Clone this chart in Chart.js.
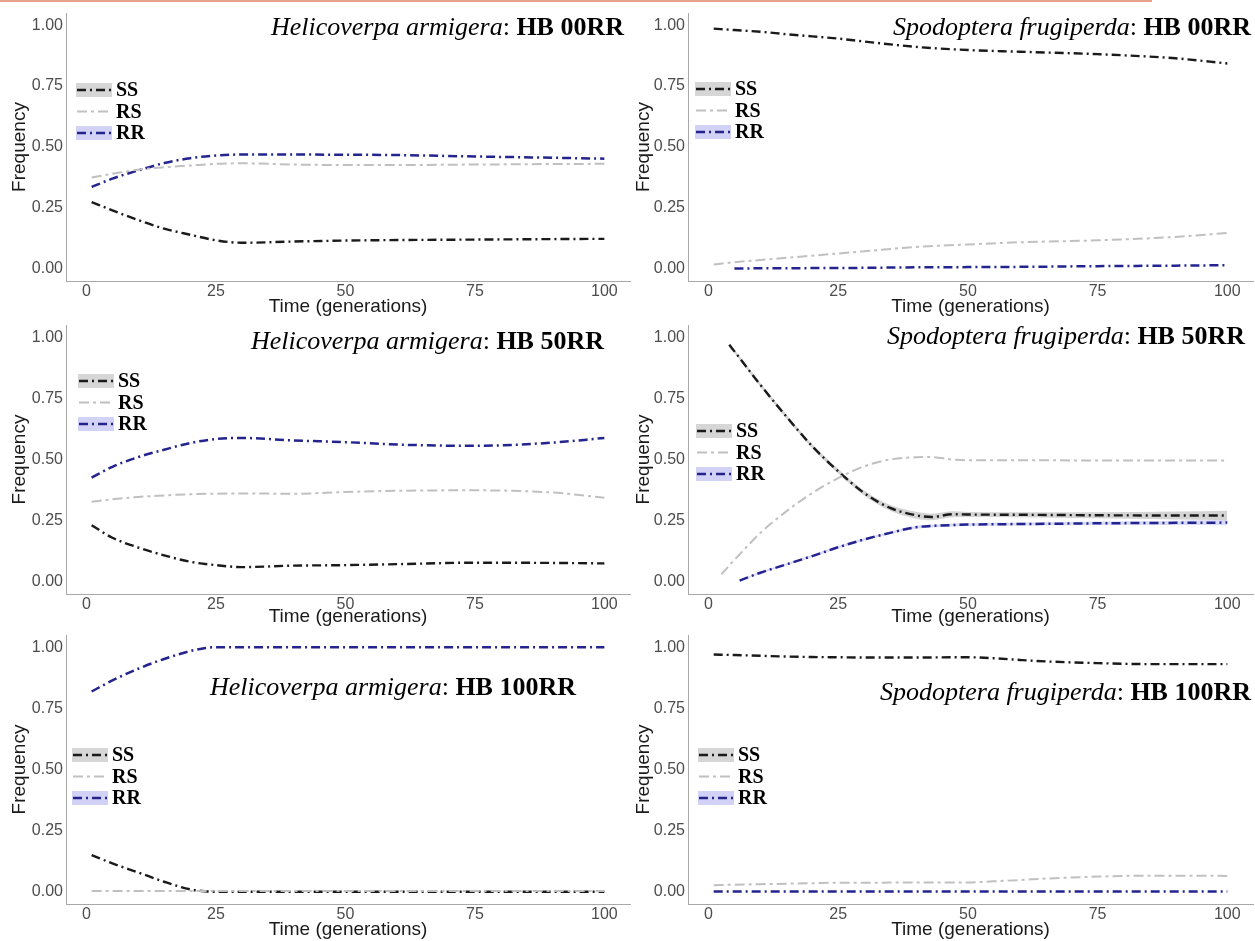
<!DOCTYPE html>
<html>
<head>
<meta charset="utf-8">
<script src="https://cdn.jsdelivr.net/npm/chart.js@4.4.1/dist/chart.umd.min.js"></script>
<style>
  body { margin: 0; background: #fff; width: 1255px; height: 941px; position: relative; overflow: hidden; }
  .bar { position: absolute; left: 0; top: 0; width: 1152px; height: 2px; background: #e8a28c; }
  canvas { position: absolute; }
</style>
</head>
<body>
<div class="bar"></div>
<canvas id="p1" width="632" height="318" style="left:0;top:0"></canvas>
<canvas id="p2" width="631" height="318" style="left:624px;top:0"></canvas>
<canvas id="p3" width="632" height="316" style="left:0;top:312px"></canvas>
<canvas id="p4" width="631" height="316" style="left:624px;top:312px"></canvas>
<canvas id="p5" width="632" height="319" style="left:0;top:622px"></canvas>
<canvas id="p6" width="631" height="319" style="left:624px;top:622px"></canvas>
<script>
// Axis ticks
const xTicks = [0, 25, 50, 75, 100];
const yTicks = [0, 0.25, 0.5, 0.75, 1];
const genotypes = ['SS', 'RS', 'RR'];

// Helicoverpa armigera: HB 00RR
const ha00Gen = [1, 5, 10, 15, 20, 25, 30, 40, 50, 60, 75, 90, 100];
const ha00SS = [0.274, 0.24, 0.20, 0.165, 0.14, 0.117, 0.107, 0.112, 0.116, 0.118, 0.12, 0.122, 0.123];
const ha00RS = [0.375, 0.39, 0.407, 0.417, 0.424, 0.431, 0.433, 0.428, 0.426, 0.426, 0.428, 0.43, 0.431];
const ha00RR = [0.336, 0.37, 0.404, 0.434, 0.454, 0.465, 0.469, 0.469, 0.468, 0.467, 0.461, 0.456, 0.452];

// Spodoptera frugiperda: HB 00RR
const sf00Gen = [1, 5, 10, 15, 20, 25, 30, 40, 50, 60, 75, 90, 100];
const sf00SS = [0.986, 0.98, 0.973, 0.963, 0.954, 0.945, 0.933, 0.911, 0.898, 0.891, 0.881, 0.864, 0.843];
const sf00RS = [0.018, 0.027, 0.036, 0.045, 0.054, 0.063, 0.072, 0.09, 0.1, 0.109, 0.117, 0.131, 0.147];
const sf00RR = [null, 0.001, 0.002, 0.002, 0.003, 0.003, 0.004, 0.006, 0.007, 0.008, 0.011, 0.013, 0.015];

// Helicoverpa armigera: HB 50RR
const ha50Gen = [1, 5, 10, 15, 20, 25, 30, 40, 50, 60, 75, 90, 100];
const ha50SS = [0.231, 0.18, 0.14, 0.108, 0.082, 0.068, 0.06, 0.066, 0.068, 0.072, 0.078, 0.077, 0.075];
const ha50RS = [0.327, 0.337, 0.347, 0.353, 0.358, 0.36, 0.361, 0.36, 0.367, 0.372, 0.374, 0.365, 0.344];
const ha50RR = [0.426, 0.47, 0.51, 0.54, 0.567, 0.584, 0.588, 0.578, 0.571, 0.561, 0.556, 0.569, 0.588];

// Spodoptera frugiperda: HB 50RR (with confidence bands)
const sf50Gen = [2.5, 4, 6, 10, 15, 20, 25, 30, 35, 40, 43, 47, 50, 60, 75, 90, 100];
const sf50SS = [null, 0.969, 0.915, 0.805, 0.676, 0.554, 0.452, 0.363, 0.302, 0.272, 0.265, 0.276, 0.275, 0.274, 0.272, 0.271, 0.271];
const sf50RS = [0.03, 0.067, 0.112, 0.2, 0.288, 0.363, 0.424, 0.472, 0.5, 0.509, 0.51, 0.5, 0.497, 0.497, 0.496, 0.496, 0.496];
const sf50RR = [null, null, 0.005, 0.037, 0.071, 0.105, 0.141, 0.173, 0.2, 0.223, 0.228, 0.232, 0.234, 0.236, 0.239, 0.241, 0.242];
const sf50SSLow = [null, 0.962, 0.908, 0.797, 0.668, 0.546, 0.443, 0.353, 0.29, 0.258, 0.252, 0.264, 0.265, 0.264, 0.26, 0.255, 0.252];
const sf50SSHigh = [null, 0.976, 0.922, 0.813, 0.684, 0.562, 0.461, 0.373, 0.314, 0.286, 0.278, 0.288, 0.285, 0.284, 0.284, 0.287, 0.29];
const sf50RRLow = [null, null, 0.002, 0.033, 0.067, 0.1, 0.136, 0.168, 0.195, 0.217, 0.222, 0.226, 0.228, 0.23, 0.232, 0.232, 0.231];
const sf50RRHigh = [null, null, 0.008, 0.041, 0.075, 0.11, 0.146, 0.178, 0.205, 0.229, 0.234, 0.238, 0.24, 0.242, 0.246, 0.25, 0.253];

// Helicoverpa armigera: HB 100RR
const ha100Gen = [1, 5, 10, 15, 20, 23, 25, 30, 40, 50, 60, 75, 90, 100];
const ha100SS = [0.15, 0.116, 0.079, 0.041, 0.01, 0.002, 0, 0, 0, 0, 0, 0, 0, 0];
const ha100RS = [0.003, 0.003, 0.003, 0.003, 0.003, 0.003, 0.003, 0.003, 0.003, 0.003, 0.003, 0.003, 0.003, 0.003];
const ha100RR = [0.819, 0.864, 0.912, 0.952, 0.984, 0.997, 1.0, 1.0, 1.0, 1.0, 1.0, 1.0, 1.0, 1.0];

// Spodoptera frugiperda: HB 100RR
const sf100Gen = [1, 5, 10, 15, 20, 25, 30, 40, 50, 55, 60, 65, 75, 85, 100];
const sf100SS = [0.97, 0.968, 0.965, 0.962, 0.96, 0.959, 0.958, 0.958, 0.959, 0.955, 0.948, 0.942, 0.935, 0.931, 0.931];
const sf100RS = [0.027, 0.029, 0.031, 0.033, 0.035, 0.037, 0.037, 0.038, 0.038, 0.043, 0.048, 0.054, 0.062, 0.066, 0.065];
const sf100RR = [0.001, 0.001, 0.001, 0.001, 0.001, 0.001, 0.001, 0.001, 0.001, 0.001, 0.001, 0.001, 0.001, 0.001, 0.001];

// line look for each genotype
const styles = {
    SS: { color: '#1a1a1a', width: 2.4, dash: [9, 4, 2, 4], box: '#d6d6d6' },
    RS: { color: '#c0c0c0', width: 2, dash: [10, 4, 3, 4], box: null },
    RR: { color: '#24248f', width: 2.5, dash: [9, 4, 2, 4], box: '#d2d2f6' }
};

const panels = [
    { id: 'p1', yw: 66, xh: 37, species: 'Helicoverpa armigera', code: 'HB 00RR', gen: ha00Gen, SS: ha00SS, RS: ha00RS, RR: ha00RR, titleX: 624, titleY: 28, legX: 76, legY: 90 },
    { id: 'p2', yw: 64, xh: 37, species: 'Spodoptera frugiperda', code: 'HB 00RR', gen: sf00Gen, SS: sf00SS, RS: sf00RS, RR: sf00RR, titleX: 627, titleY: 28, legX: 71, legY: 89 },
    { id: 'p3', yw: 66, xh: 34, species: 'Helicoverpa armigera', code: 'HB 50RR', gen: ha50Gen, SS: ha50SS, RS: ha50RS, RR: ha50RR, titleX: 604, titleY: 30, legX: 78, legY: 69 },
    { id: 'p4', yw: 64, xh: 34, species: 'Spodoptera frugiperda', code: 'HB 50RR', gen: sf50Gen, SS: sf50SS, RS: sf50RS, RR: sf50RR, titleX: 621, titleY: 25, legX: 72, legY: 119,
      bands: [[sf50SSLow, sf50SSHigh, 'rgba(160,160,160,0.45)'], [sf50RRLow, sf50RRHigh, 'rgba(150,150,240,0.35)']] },
    { id: 'p5', yw: 66, xh: 37, species: 'Helicoverpa armigera', code: 'HB 100RR', gen: ha100Gen, SS: ha100SS, RS: ha100RS, RR: ha100RR, titleX: 576, titleY: 66, legX: 72, legY: 133 },
    { id: 'p6', yw: 64, xh: 37, species: 'Spodoptera frugiperda', code: 'HB 100RR', gen: sf100Gen, SS: sf100SS, RS: sf100RS, RR: sf100RR, titleX: 627, titleY: 71, legX: 74, legY: 133 }
];

// pair generations with values, skipping empty spots
function toPoints(gen, values) {
    const pts = [];
    for (let i = 0; i < gen.length; i++) {
        if (values[i] !== null) pts.push({ x: gen[i], y: values[i] });
    }
    return pts;
}

// panel title + legend drawn inside the plot
const panelText = {
    id: 'panelText',
    afterDraw(chart, args, opts) {
        const ctx = chart.ctx;
        ctx.save();
        // title, right aligned
        const italic = 'italic 26px "Liberation Serif", "Times New Roman", serif';
        const normal = '26px "Liberation Serif", "Times New Roman", serif';
        const bold = 'bold 26px "Liberation Serif", "Times New Roman", serif';
        ctx.textBaseline = 'middle';
        ctx.fillStyle = '#000';
        ctx.font = bold;
        const w3 = ctx.measureText(opts.code).width;
        ctx.font = normal;
        const w2 = ctx.measureText(': ').width;
        ctx.font = italic;
        const w1 = ctx.measureText(opts.species).width;
        let x = opts.titleX - w1 - w2 - w3;
        ctx.textAlign = 'left';
        ctx.fillText(opts.species, x, opts.titleY);
        ctx.font = normal;
        ctx.fillText(': ', x + w1, opts.titleY);
        ctx.font = bold;
        ctx.fillText(opts.code, x + w1 + w2, opts.titleY);

        // legend
        genotypes.forEach((g, i) => {
            const st = styles[g];
            const y = opts.legY + i * 21.5;
            if (st.box) {
                ctx.fillStyle = st.box;
                ctx.fillRect(opts.legX, y - 7, 36, 14);
            }
            ctx.beginPath();
            ctx.setLineDash(st.dash);
            ctx.strokeStyle = st.color;
            ctx.lineWidth = st.width;
            ctx.moveTo(opts.legX + 1, y);
            ctx.lineTo(opts.legX + 36, y);
            ctx.stroke();
            ctx.setLineDash([]);
            ctx.fillStyle = '#000';
            ctx.font = 'bold 20px "Liberation Serif", "Times New Roman", serif';
            ctx.fillText(g, opts.legX + 40, y + 1);
        });
        ctx.restore();
    }
};

function createPanel(p) {
    const datasets = [];
    (p.bands || []).forEach(b => {
        datasets.push({ data: toPoints(p.gen, b[0]), borderWidth: 0, pointRadius: 0, fill: false, cubicInterpolationMode: 'monotone', order: 10 });
        datasets.push({ data: toPoints(p.gen, b[1]), borderWidth: 0, pointRadius: 0, fill: '-1', backgroundColor: b[2], cubicInterpolationMode: 'monotone', order: 10 });
    });
    ['RS', 'RR', 'SS'].forEach(g => {
        datasets.push({
            label: g,
            data: toPoints(p.gen, p[g]),
            borderColor: styles[g].color,
            borderWidth: styles[g].width,
            borderDash: styles[g].dash,
            pointRadius: 0,
            fill: false,
            cubicInterpolationMode: 'monotone'
        });
    });

    new Chart(document.getElementById(p.id), {
        type: 'line',
        data: { datasets: datasets },
        options: {
            responsive: false,
            animation: false,
            devicePixelRatio: 1,
            layout: { padding: { top: 13, right: 2, left: 0, bottom: 0 } },
            plugins: {
                legend: { display: false },
                tooltip: { enabled: false },
                panelText: { species: p.species, code: p.code, titleX: p.titleX, titleY: p.titleY, legX: p.legX, legY: p.legY }
            },
            scales: {
                x: {
                    type: 'linear',
                    min: -3.95,
                    max: 104.95,
                    afterBuildTicks: s => { s.ticks = xTicks.map(v => ({ value: v })); },
                    afterFit: s => { s.height = p.xh; },
                    grid: { display: true, drawOnChartArea: false, drawTicks: false },
                    border: { display: true, color: '#a8a8a8', width: 1 },
                    ticks: { color: '#4d4d4d', padding: 1, maxRotation: 0, font: { family: '"Liberation Sans", Arial, sans-serif', size: 16 } },
                    title: { display: true, text: 'Time (generations)', color: '#1a1a1a', padding: { top: 0, bottom: 0 }, font: { family: '"Liberation Sans", Arial, sans-serif', size: 19 } }
                },
                y: {
                    min: -0.05,
                    max: 1.05,
                    afterBuildTicks: s => { s.ticks = yTicks.map(v => ({ value: v })); },
                    afterFit: s => { s.width = p.yw; },
                    grid: { display: true, drawOnChartArea: false, drawTicks: false },
                    border: { display: true, color: '#a8a8a8', width: 1 },
                    ticks: { color: '#4d4d4d', padding: 3, callback: v => v.toFixed(2), font: { family: '"Liberation Sans", Arial, sans-serif', size: 16 } },
                    title: { display: true, text: 'Frequency', color: '#1a1a1a', padding: { top: 8, bottom: 0 }, font: { family: '"Liberation Sans", Arial, sans-serif', size: 19 } }
                }
            }
        },
        plugins: [panelText]
    });
}

panels.forEach(createPanel);
</script>
</body>
</html>
